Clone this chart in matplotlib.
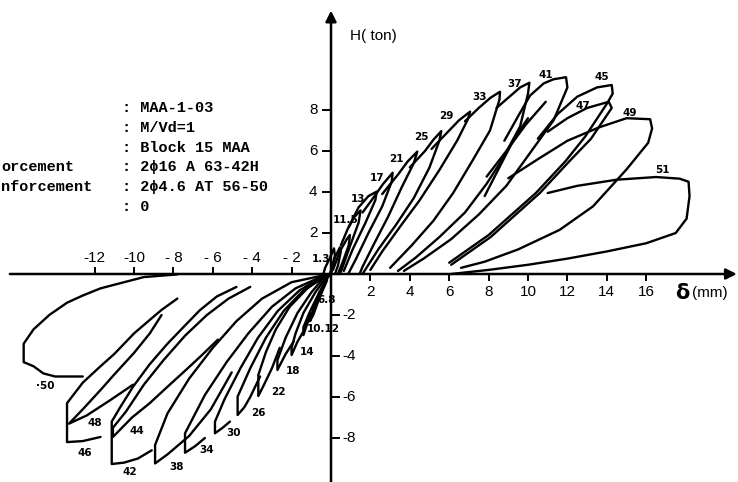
import matplotlib
matplotlib.use("Agg")
import matplotlib.pyplot as plt

# ---------------- data ----------------
# positive-side loops: displacement (mm), load (ton)
c1_d = [-0.45, -0.3, -0.05, 0.15, 0.2, 0.05, -0.1]
c1_h = [-0.2, 0.3, 0.8, 1.25, 0.9, 0.3, -0.1]
c5_d = [0.0, 0.2, 0.45, 0.5, 0.35, 0.2]
c5_h = [0.0, 0.8, 1.3, 1.1, 0.4, 0.0]
c9_d = [0.1, 0.45, 0.8, 0.96, 0.9, 0.6, 0.35]
c9_h = [0.2, 1.1, 1.7, 1.9, 1.4, 0.6, 0.0]
c11_d = [0.5, 0.85, 1.2, 1.5, 1.4, 0.96, 0.5]
c11_h = [1.4, 2.2, 2.8, 3.1, 2.5, 1.35, 0.1]
c13_d = [0.9, 1.4, 1.9, 2.32, 2.25, 1.75, 1.1, 0.65]
c13_h = [2.3, 3.25, 3.8, 4.02, 3.6, 2.5, 1.2, 0.15]
c17_d = [1.6, 2.1, 2.65, 3.13, 3.08, 2.6, 1.9, 1.25, 0.9]
c17_h = [3.0, 3.65, 4.4, 4.94, 4.5, 3.3, 2.0, 0.7, 0.05]
c21_d = [2.6, 3.4, 3.9, 4.38, 4.2, 3.6, 2.9, 2.2, 1.6, 1.45]
c21_h = [3.9, 4.85, 5.5, 5.97, 5.4, 4.25, 2.8, 1.5, 0.35, 0.0]
c25_d = [4.0, 4.77, 5.2, 5.6, 5.5, 5.0, 4.2, 3.3, 2.4, 1.8, 1.6]
c25_h = [5.2, 6.0, 6.55, 6.97, 6.5, 5.2, 3.7, 2.4, 1.2, 0.3, 0.0]
c29_d = [5.1, 5.8, 6.5, 7.06, 6.95, 6.4, 5.5, 4.5, 3.5, 2.6, 2.0]
c29_h = [6.1, 6.8, 7.5, 7.92, 7.55, 6.5, 5.07, 3.6, 2.3, 1.1, 0.2]
c33_d = [6.8, 7.5, 8.1, 8.58, 8.55, 8.07, 7.2, 6.2, 5.2, 4.1, 3.0]
c33_h = [7.45, 8.1, 8.6, 8.89, 8.5, 7.0, 5.56, 3.95, 2.6, 1.4, 0.3]
c37_d = [8.4, 9.0, 9.6, 10.07, 10.0, 9.6, 8.7, 7.9, 6.8, 5.5, 4.3, 3.4]
c37_h = [8.1, 8.6, 9.1, 9.33, 8.8, 7.2, 5.6, 4.4, 3.0, 1.8, 0.8, 0.15]
c41_d = [8.8, 9.5, 10.1, 10.8, 11.3, 11.93, 12.0, 11.3, 10.1, 8.9, 7.5, 6.1, 4.7, 3.7]
c41_h = [6.5, 7.7, 8.7, 9.3, 9.5, 9.6, 9.1, 7.5, 5.9, 4.3, 2.9, 1.7, 0.75, 0.15]
c45_d = [10.5, 11.5, 12.5, 13.5, 14.25, 14.3, 14.0, 12.9, 11.9, 10.4, 8.0, 6.0]
c45_h = [6.6, 7.8, 8.65, 9.1, 9.22, 8.8, 8.3, 6.7, 5.5, 3.95, 1.9, 0.55]
c47_d = [11.0, 12.0, 13.0, 14.1, 14.25, 13.2, 12.1, 10.6, 8.1, 6.1]
c47_h = [6.94, 7.6, 8.1, 8.4, 8.1, 6.6, 5.5, 3.95, 1.8, 0.45]
c49_d = [9.0, 10.5, 12.0, 13.6, 15.0, 16.2, 16.3, 16.1, 15.0, 13.3, 11.6, 9.5, 7.8, 6.6]
c49_h = [4.67, 5.6, 6.5, 7.15, 7.6, 7.55, 7.1, 6.4, 5.1, 3.3, 2.15, 1.2, 0.6, 0.3]
c51_d = [11.0, 12.5, 14.5, 16.5, 17.7, 18.15, 18.2, 18.05, 17.5, 16.0, 14.0, 12.0, 10.0, 8.0, 6.1]
c51_h = [3.95, 4.3, 4.6, 4.73, 4.65, 4.5, 3.8, 2.7, 2.0, 1.5, 1.1, 0.75, 0.45, 0.2, 0.0]
# extra reloading strokes in the positive fan
r37_d = [7.8, 8.6, 9.3, 10.0]
r37_h = [3.8, 5.3, 6.6, 7.6]
r41_d = [7.9, 8.9, 9.9, 10.9]
r41_h = [4.75, 6.0, 7.3, 8.4]

# negative-side loops
n6_d = [-0.1, -0.5, -0.9, -1.07, -0.9, -0.6, -0.2]
n6_h = [-0.05, -0.8, -1.7, -2.3, -2.0, -1.2, -0.3]
n10_d = [-0.15, -0.6, -1.1, -1.4, -1.4, -1.2, -0.98]
n10_h = [-0.1, -0.9, -1.9, -2.6, -2.98, -2.4, -1.92]
n14_d = [-0.2, -0.8, -1.4, -1.8, -2.0, -2.0, -1.7, -1.4]
n14_h = [-0.1, -0.9, -1.9, -2.9, -3.6, -3.95, -3.3, -2.8]
n18_d = [-0.3, -1.0, -1.7, -2.3, -2.72, -2.72, -2.3, -1.9]
n18_h = [-0.1, -0.9, -1.9, -3.1, -4.2, -4.68, -3.9, -3.3]
n22_d = [-0.3, -1.2, -2.1, -2.8, -3.3, -3.69, -3.69, -3.4, -3.0, -2.6]
n22_h = [-0.1, -0.7, -1.6, -2.7, -3.8, -4.93, -5.95, -5.4, -4.6, -3.6]
n26_d = [-0.3, -1.4, -2.4, -3.3, -4.1, -4.74, -4.74, -4.4, -4.1, -3.6]
n26_h = [-0.1, -0.8, -1.8, -3.1, -4.6, -5.98, -6.88, -6.5, -6.0, -5.0]
n30_d = [-0.3, -1.6, -2.7, -3.7, -4.6, -5.4, -5.89, -5.89, -5.5, -5.13]
n30_h = [-0.05, -0.8, -1.8, -3.1, -4.6, -6.1, -7.2, -7.77, -7.5, -7.2]
n34_d = [-0.3, -1.8, -3.0, -4.2, -5.3, -6.4, -7.41, -7.41, -6.9, -6.4]
n34_h = [-0.05, -0.7, -1.6, -2.9, -4.3, -5.9, -7.77, -8.72, -8.4, -8.0]
n38_d = [-0.3, -2.0, -3.5, -4.8, -6.0, -7.2, -8.3, -8.93, -8.93, -8.3, -7.2, -6.1, -5.04]
n38_h = [-0.05, -0.4, -1.2, -2.3, -3.6, -5.1, -6.8, -8.34, -9.24, -8.8, -7.9, -6.6, -4.8]
n42_d = [-4.8, -5.8, -6.65, -7.5, -8.3, -9.2, -10.05, -10.7, -11.13, -11.13, -10.5, -9.8, -9.1]
n42_h = [-0.63, -1.1, -1.76, -2.6, -3.4, -4.4, -5.5, -6.5, -7.2, -9.27, -9.2, -9.0, -8.6]
n44_d = [-4.1, -5.2, -6.3, -7.4, -8.5, -9.5, -10.4, -11.07, -11.07, -10.1, -9.2, -8.3, -7.5, -6.6, -5.74]
n44_h = [-0.63, -1.2, -2.0, -3.0, -4.2, -5.4, -6.7, -7.5, -7.95, -7.0, -6.3, -5.5, -4.8, -4.0, -3.2]
n46_d = [-7.8, -8.6, -9.2, -10.0, -11.0, -11.7, -12.6, -13.4, -13.4, -12.6, -11.7]
n46_h = [-1.2, -1.75, -2.24, -2.9, -3.9, -4.5, -5.3, -6.3, -8.2, -8.15, -7.95]
n48_d = [-8.6, -9.2, -10.0, -11.0, -11.7, -12.6, -13.3, -12.4, -11.2, -10.05]
n48_h = [-2.0, -2.9, -3.85, -4.9, -5.66, -6.6, -7.3, -6.9, -6.15, -5.4]
n50_d = [-7.8, -9.5, -10.5, -11.7, -12.6, -13.4, -14.3, -15.1, -15.6, -15.6, -15.1, -14.6, -14.0, -13.4, -12.6]
n50_h = [-0.02, -0.15, -0.4, -0.7, -1.05, -1.4, -2.0, -2.7, -3.4, -4.3, -4.5, -4.85, -5.0, -5.0, -5.0]

# cycle labels: text, displacement, load
pos_labels = ["1.3", "11.5", "13", "17", "21", "25", "29", "33", "37", "41", "45", "47", "49", "51"]
pos_lab_d = [-0.5, 0.76, 1.37, 2.32, 3.3, 4.6, 5.87, 7.56, 9.3, 10.9, 13.74, 12.8, 15.15, 16.8]
pos_lab_h = [0.73, 2.63, 3.66, 4.68, 5.6, 6.7, 7.7, 8.62, 9.27, 9.7, 9.6, 8.2, 7.87, 5.07]
neg_labels = ["6.8", "10.12", "14", "18", "22", "26", "30", "34", "38", "42", "44", "46", "48", "·50"]
neg_lab_d = [-0.2, -0.39, -1.23, -1.91, -2.67, -3.69, -4.96, -6.3, -7.83, -10.2, -9.86, -12.5, -11.98, -14.5]
neg_lab_h = [-1.27, -2.7, -3.8, -4.72, -5.77, -6.8, -7.74, -8.59, -9.4, -9.64, -7.66, -8.75, -7.25, -5.46]

# axis ticks
xticks_pos = [2, 4, 6, 8, 10, 12, 14, 16]
xticks_neg = [-12, -10, -8, -6, -4, -2]
xticks_neg_lbl = ["-12", "-10", "- 8", "- 6", "- 4", "- 2"]
yticks_pos = [2, 4, 6, 8]
yticks_neg = [-2, -4, -6, -8]

# specimen description block
info_left = ["orcement", "nforcement"]
info_right = [": MAA-1-03", ": M/Vd=1", ": Block 15 MAA", ": 2\u03d516 A 63-42H",
              ": 2\u03d54.6 AT 56-50", ": 0"]

# ---------------- drawing ----------------
fig = plt.figure(figsize=(7.38, 4.82), dpi=100)
ax = fig.add_axes([0, 0, 1, 1])
ax.set_xlim(-331 / 19.7, (738 - 331) / 19.7)
ax.set_ylim(-(482 - 274) / 20.5, 274 / 20.5)
ax.axis("off")

lw = 1.7
series = [(c1_d, c1_h), (c5_d, c5_h), (c9_d, c9_h), (c11_d, c11_h), (c13_d, c13_h),
          (c17_d, c17_h), (c21_d, c21_h), (c25_d, c25_h), (c29_d, c29_h), (c33_d, c33_h),
          (c37_d, c37_h), (c41_d, c41_h), (c45_d, c45_h), (c47_d, c47_h), (c49_d, c49_h),
          (c51_d, c51_h), (r37_d, r37_h), (r41_d, r41_h),
          (n6_d, n6_h), (n10_d, n10_h), (n14_d, n14_h), (n18_d, n18_h), (n22_d, n22_h),
          (n26_d, n26_h), (n30_d, n30_h), (n34_d, n34_h), (n38_d, n38_h), (n42_d, n42_h),
          (n44_d, n44_h), (n46_d, n46_h), (n48_d, n48_h), (n50_d, n50_h)]
for d, h in series:
    ax.plot(d, h, color="black", lw=lw, solid_joinstyle="round", solid_capstyle="round")

# axes with arrows
x0, x1 = ax.get_xlim()
y0, y1 = ax.get_ylim()
ax.annotate("", xy=(20.6, 0), xytext=(-16.3, 0),
            arrowprops=dict(arrowstyle="-|>", color="black", lw=1.8, mutation_scale=16,
                            shrinkA=0, shrinkB=0))
ax.annotate("", xy=(0, 12.85), xytext=(0, y0),
            arrowprops=dict(arrowstyle="-|>", color="black", lw=1.8, mutation_scale=16,
                            shrinkA=0, shrinkB=0))

tick_font = dict(family="Liberation Sans", fontsize=11, color="black")
tl = 0.28
for v in xticks_pos:
    ax.plot([v, v], [0, -tl], color="black", lw=1.4)
    ax.text(v, -0.55, str(v), ha="center", va="top", **tick_font)
for v, s in zip(xticks_neg, xticks_neg_lbl):
    ax.plot([v, v], [0, tl], color="black", lw=1.4)
    ax.text(v, 0.45, s, ha="center", va="bottom", **tick_font)
for v in yticks_pos:
    ax.plot([-0.42, 0], [v, v], color="black", lw=1.4)
    ax.text(-0.9, v, str(v), ha="center", va="center", **tick_font)
for v in yticks_neg:
    ax.plot([0, 0.42], [v, v], color="black", lw=1.4)
    ax.text(0.6, v, "-" + str(abs(v)), ha="left", va="center", **tick_font)

# axis titles
ax.text(0.95, 11.6, "H( ton)", ha="left", va="center", family="Liberation Sans", fontsize=11)
ax.text(17.45, -0.95, "\u03b4", ha="left", va="center", family="DejaVu Sans",
        fontsize=15, fontweight="bold")
ax.text(18.3, -0.95, "(mm)", ha="left", va="center", family="Liberation Sans", fontsize=11)

# cycle labels
lab_font = dict(family="DejaVu Sans", fontsize=7.5, fontweight="bold", ha="center", va="center")
for s, d, h in zip(pos_labels, pos_lab_d, pos_lab_h):
    ax.text(d, h, s, **lab_font)
for s, d, h in zip(neg_labels, neg_lab_d, neg_lab_h):
    ax.text(d, h, s, **lab_font)

# specimen description
mono = dict(family="Liberation Mono", fontsize=11, color="black", va="center", fontweight="bold")
row_y = [108, 128, 148, 167, 187, 207]
for i, s in enumerate(info_right):
    ax.text(122 / 738, 1 - row_y[i] / 482, s, transform=fig.transFigure, ha="left", **mono)
for s, yy in zip(info_left, [167, 187]):
    ax.text(1 / 738, 1 - yy / 482, s, transform=fig.transFigure, ha="left", **mono)

fig.savefig("out.png", dpi=100)
